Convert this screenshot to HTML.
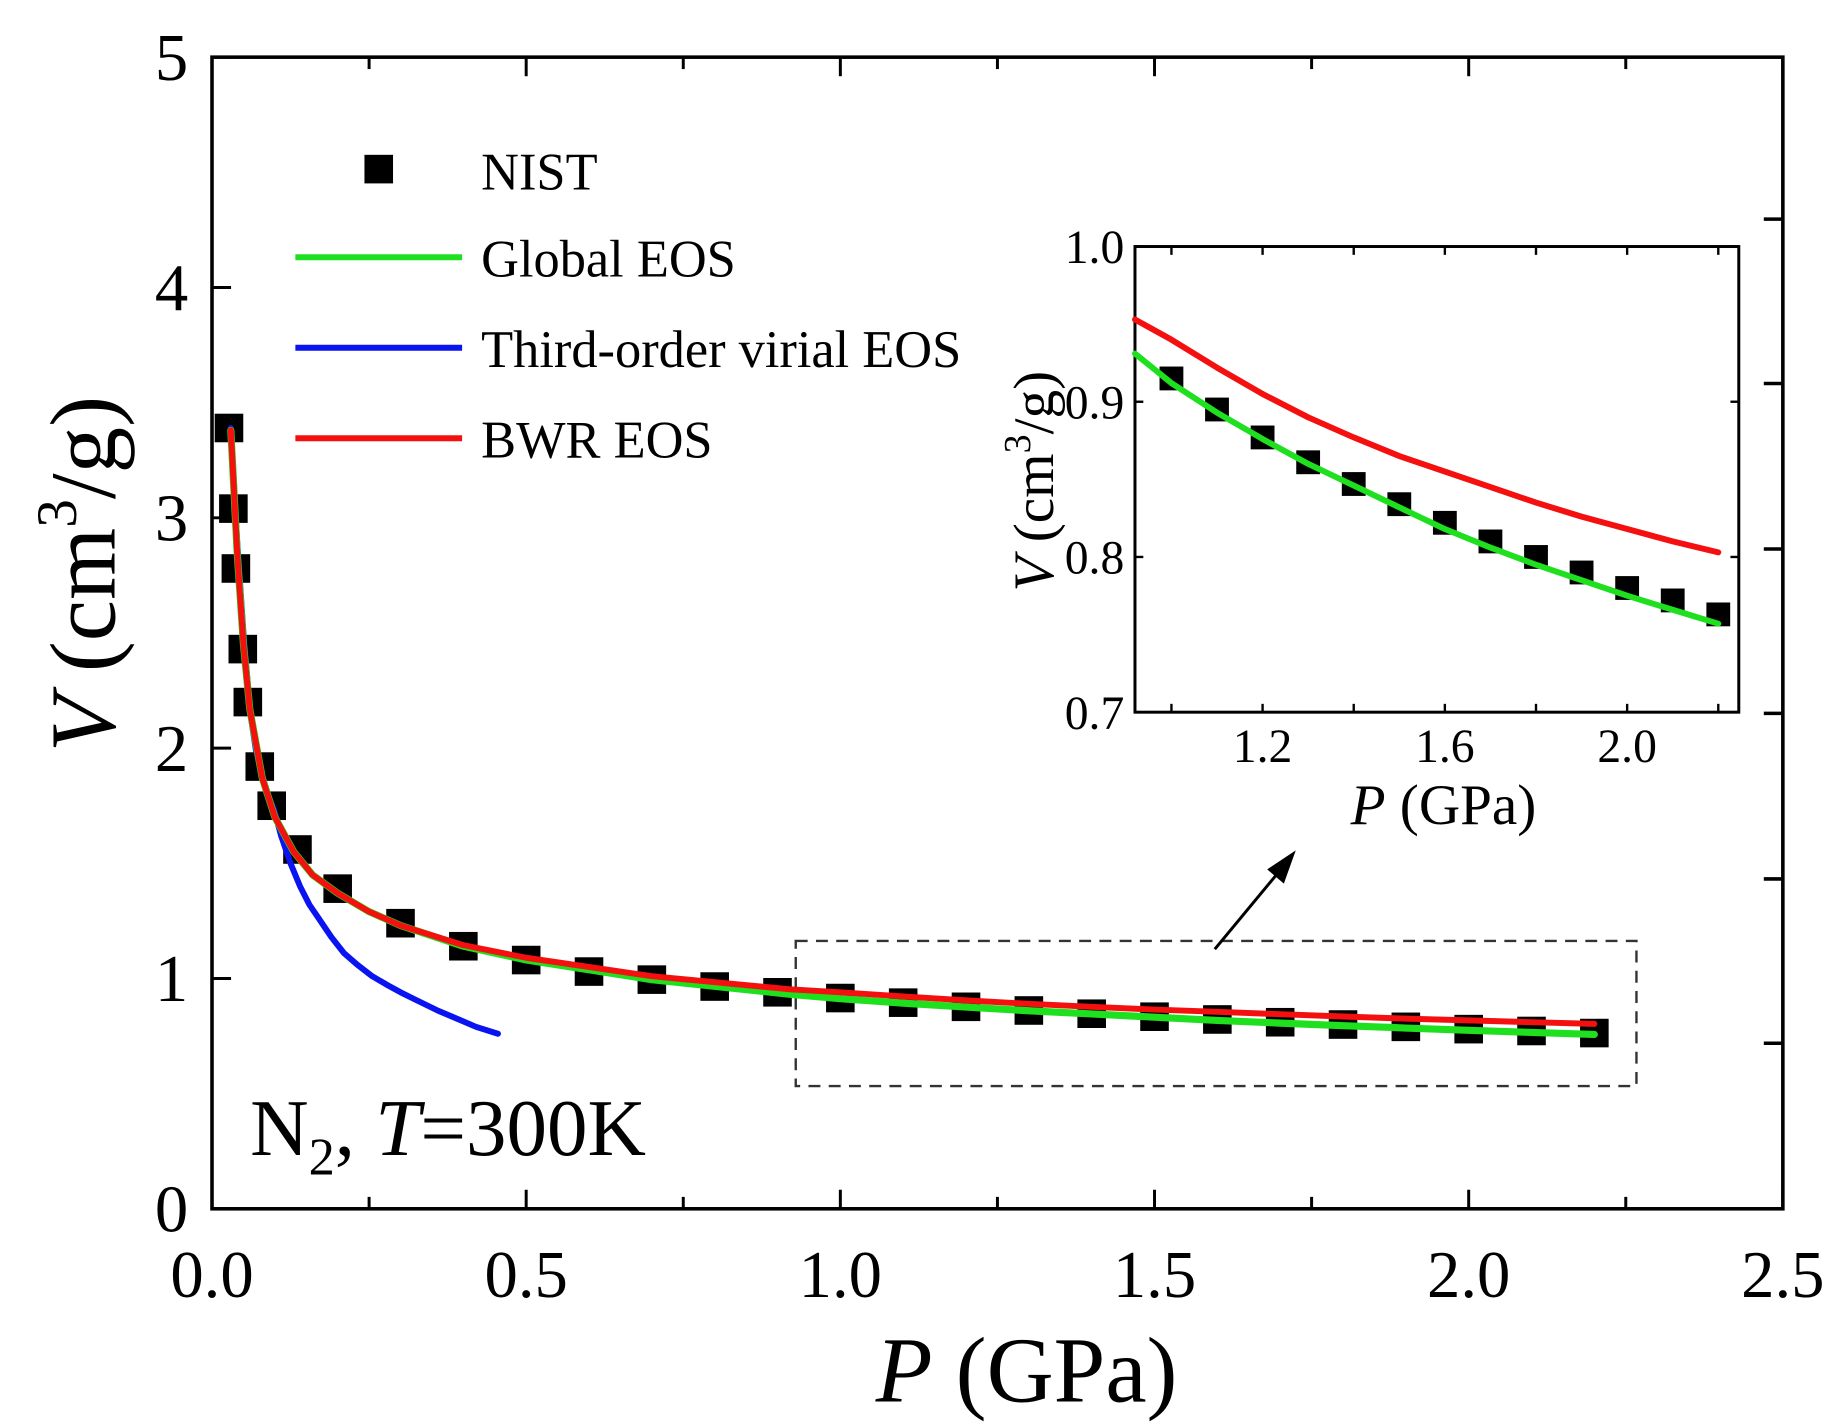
<!DOCTYPE html>
<html><head><meta charset="utf-8"><style>
html,body{margin:0;padding:0;background:#fff;}
svg{display:block;font-family:"Liberation Serif",serif;}
</style></head><body>
<svg id="chart" width="1846" height="1424" viewBox="0 0 1550 1195.7" xmlns="http://www.w3.org/2000/svg">
<g id="main"></g>
<g id="inset"></g>
</svg>
<script>
// ---- data ----
const nistP = [0.027,0.034,0.038,0.049,0.057,0.076,0.095,0.136,0.2,0.3,0.4,0.5,0.6,0.7,0.8,0.9,1.0,1.1,1.2,1.3,1.4,1.5,1.6,1.7,1.8,1.9,2.0,2.1,2.2];
const nistV = [3.39,3.04,2.78,2.43,2.20,1.92,1.75,1.56,1.39,1.24,1.14,1.08,1.03,0.995,0.965,0.94,0.915,0.895,0.877,0.861,0.847,0.834,0.822,0.81,0.80,0.79,0.78,0.772,0.763];
const curveP = [0.03,0.04,0.05,0.06,0.08,0.1,0.13,0.16,0.2,0.25,0.3,0.4,0.5,0.7,0.92,1.0,1.1,1.2,1.3,1.4,1.5,1.6,1.7,1.8,1.9,2.0,2.1,2.2];
const globalV = [3.38,2.85,2.45,2.17,1.87,1.70,1.55,1.45,1.37,1.29,1.23,1.14,1.08,0.995,0.931,0.912,0.893,0.876,0.86,0.846,0.832,0.818,0.806,0.795,0.785,0.775,0.766,0.757];
const bwrV = [3.38,2.85,2.45,2.17,1.87,1.70,1.55,1.45,1.37,1.29,1.23,1.145,1.09,1.01,0.953,0.94,0.922,0.905,0.89,0.877,0.865,0.855,0.845,0.835,0.826,0.818,0.81,0.803];
const virialP = [0.03,0.04,0.05,0.061,0.07,0.08,0.09,0.099,0.11,0.125,0.14,0.155,0.17,0.19,0.21,0.231,0.255,0.28,0.3,0.326,0.36,0.39,0.42,0.455];
const virialV = [3.39,2.9,2.5,2.15,1.99,1.88,1.79,1.73,1.62,1.50,1.40,1.32,1.26,1.18,1.11,1.06,1.01,0.97,0.94,0.905,0.86,0.825,0.79,0.76];
const xTicks = [0,0.5,1.0,1.5,2.0,2.5];
const xTickLabels = ["0.0","0.5","1.0","1.5","2.0","2.5"];
const yTicks = [0,1,2,3,4,5];
const yTickLabels = ["0","1","2","3","4","5"];
const inXTicks = [1.2,1.6,2.0];
const inXTickLabels = ["1.2","1.6","2.0"];
const inYTicks = [0.7,0.8,0.9,1.0];
const inYTickLabels = ["0.7","0.8","0.9","1.0"];

const NS="http://www.w3.org/2000/svg";
function mk(parent,tag,attrs,text){const e=document.createElementNS(NS,tag);for(const k in attrs)e.setAttribute(k,attrs[k]);if(text!==undefined)e.textContent=text;parent.appendChild(e);return e;}

const L=178,R=1497,T=48,B=1015;
const X=p=>L+(p-0)/(2.5)*(R-L);
const Y=v=>B-(v/5)*(B-T);
const main=document.getElementById('main');

let fr=mk(main,'rect',{x:L,y:T,width:R-L,height:B-T,fill:'none',stroke:'#000','stroke-width':3});


for(let i=0;i<=10;i++){const p=i*0.25;const x=X(p);const len=(i%2==0)?16:10;
 mk(main,'line',{x1:x,y1:B,x2:x,y2:B-len,stroke:'#000','stroke-width':2.5});
 mk(main,'line',{x1:x,y1:T,x2:x,y2:T+len,stroke:'#000','stroke-width':2.5});}
xTicks.forEach((p,i)=>{const t=mk(main,'text',{x:X(p),y:1089,'font-size':56,'text-anchor':'middle'},xTickLabels[i]);
 
 });
yTicks.forEach((v,i)=>{const y=Y(v);mk(main,'line',{x1:L,y1:y,x2:L+16,y2:y,stroke:'#000','stroke-width':2.5});
 const t=mk(main,'text',{x:158,y:y+19,'font-size':56,'text-anchor':'end'},yTickLabels[i]);
 
 });
[184,322,461,599,738,876].forEach(y=>mk(main,'line',{x1:R,y1:y,x2:R-16,y2:y,stroke:'#000','stroke-width':3}));

let xt=mk(main,'text',{x:862,y:1177,'font-size':78,'text-anchor':'middle'});


mk(xt,'tspan',{'font-style':'italic'},'P');mk(xt,'tspan',{},' (GPa)');
let yt=mk(main,'text',{x:0,y:0,'font-size':78,'text-anchor':'middle',transform:'translate(96,482) rotate(-90)'});


mk(yt,'tspan',{'font-style':'italic'},'V');mk(yt,'tspan',{},' (cm');mk(yt,'tspan',{'font-size':48,dy:-32},'3');mk(yt,'tspan',{dy:32},'/g)');

let an=mk(main,'text',{x:210,y:970,'font-size':68});


mk(an,'tspan',{},'N');mk(an,'tspan',{'font-size':44,dy:16},'2');mk(an,'tspan',{dy:-16},', ');mk(an,'tspan',{'font-style':'italic'},'T');mk(an,'tspan',{},'=300K');

let db=mk(main,'rect',{x:X(0.929),y:Y(1.163),width:X(2.267)-X(0.929),height:Y(0.533)-Y(1.163),fill:'none',stroke:'#333','stroke-width':2,'stroke-dasharray':'10,7'});


let ar=mk(main,'line',{x1:1020,y1:797,x2:1078,y2:727,stroke:'#000','stroke-width':2.5});


mk(main,'polygon',{points:'1088,714 1064,730 1078,742',fill:'#000'});

function line(parent,xs,ys,fx,fy,color,name,w){const d=xs.map((p,i)=>(i?'L':'M')+fx(p).toFixed(1)+','+fy(ys[i]).toFixed(1)).join(' ');
 const e=mk(parent,'path',{d:d,fill:'none',stroke:color,'stroke-width':w,'stroke-linejoin':'round','stroke-linecap':'round'});
 
 }
function squares(parent,xs,ys,fx,fy,s){xs.forEach((p,i)=>{const r=mk(parent,'rect',{x:fx(p)-s/2,y:fy(ys[i])-s/2,width:s,height:s,fill:'#000'});
 
 });}

squares(main,nistP,nistV,X,Y,24);
line(main,virialP,virialV,X,Y,'#0a14f0','virial-eos-line',5);
line(main,curveP,globalV,X,Y,'#1ee01e','global-eos-line',6);
line(main,curveP,bwrV,X,Y,'#f51010','bwr-eos-line',5);

const lg=mk(main,'g',{});


mk(lg,'rect',{x:306,y:130,width:24,height:24,fill:'#000'});
mk(lg,'text',{x:404,y:159,'font-size':44},'NIST');
[['#1ee01e',216,'Global EOS'],['#0a14f0',292,'Third-order virial EOS'],['#f51010',368,'BWR EOS']].forEach(a=>{
 mk(lg,'line',{x1:248,y1:a[1],x2:388,y2:a[1],stroke:a[0],'stroke-width':5});
 const t=mk(lg,'text',{x:404,y:a[1]+16,'font-size':44},a[2]);
 
 });

const inset=document.getElementById('inset');
const iL=953,iR=1460,iT=207,iB=598;
const IX=p=>iL+(p-0.92)/(2.245-0.92)*(iR-iL);
const IY=v=>iB-(v-0.7)/0.3*(iB-iT);
mk(inset,'rect',{x:iL,y:iT,width:iR-iL,height:iB-iT,fill:'#fff',stroke:'#000','stroke-width':2.5});
[1.0,1.2,1.4,1.6,1.8,2.0,2.2].forEach(p=>{const x=IX(p);
 mk(inset,'line',{x1:x,y1:iB,x2:x,y2:iB-7,stroke:'#000','stroke-width':2});
 mk(inset,'line',{x1:x,y1:iT,x2:x,y2:iT+7,stroke:'#000','stroke-width':2});});
inXTicks.forEach((p,i)=>{const t=mk(inset,'text',{x:IX(p),y:640,'font-size':40,'text-anchor':'middle'},inXTickLabels[i]);
 
 });
inYTicks.forEach((v,i)=>{const y=IY(v);
 mk(inset,'line',{x1:iL,y1:y,x2:iL+7,y2:y,stroke:'#000','stroke-width':2});
 mk(inset,'line',{x1:iR,y1:y,x2:iR-7,y2:y,stroke:'#000','stroke-width':2});
 const t=mk(inset,'text',{x:944,y:y+14,'font-size':40,'text-anchor':'end'},inYTickLabels[i]);
 
 });
let ixt=mk(inset,'text',{x:1212,y:692,'font-size':48,'text-anchor':'middle'});


mk(ixt,'tspan',{'font-style':'italic'},'P');mk(ixt,'tspan',{},' (GPa)');
let iyt=mk(inset,'text',{x:0,y:0,'font-size':48,'text-anchor':'middle',transform:'translate(884,404) rotate(-90)'});


mk(iyt,'tspan',{'font-style':'italic'},'V');mk(iyt,'tspan',{},' (cm');mk(iyt,'tspan',{'font-size':32,dy:-19},'3');mk(iyt,'tspan',{dy:19},'/g)');
const inIdx=nistP.map((p,i)=>i).filter(i=>nistP[i]>=0.95);
squares(inset,inIdx.map(i=>nistP[i]),inIdx.map(i=>nistV[i]),IX,IY,20);
const cIdx=curveP.map((p,i)=>i).filter(i=>curveP[i]>=0.92);
line(inset,cIdx.map(i=>curveP[i]),cIdx.map(i=>globalV[i]),IX,IY,'#1ee01e','inset-global-eos-line',5);
line(inset,cIdx.map(i=>curveP[i]),cIdx.map(i=>bwrV[i]),IX,IY,'#f51010','inset-bwr-eos-line',5);
</script>
</body></html>
